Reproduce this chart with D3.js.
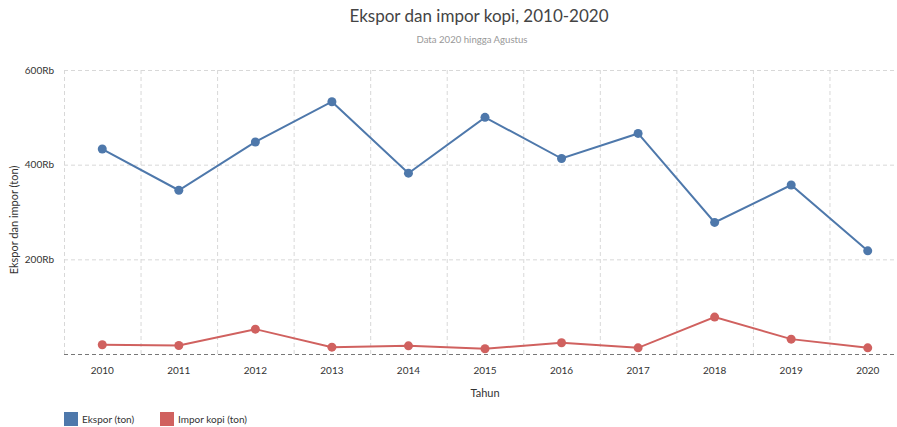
<!DOCTYPE html>
<html>
<head>
<meta charset="utf-8">
<script src="https://cdn.jsdelivr.net/npm/d3@7"></script>
<style>
  body { margin: 0; background: #fff; font-family: Lato, "Open Sans", sans-serif; }
  svg { display: block; }
  .grid line { stroke: #d8d8d8; stroke-dasharray: 4,3; }
  .grid path { display: none; }
</style>
</head>
<body>
<div class="chart"></div>
<script>
// data
var years = ["2010", "2011", "2012", "2013", "2014", "2015", "2016", "2017", "2018", "2019", "2020"];
var ekspor = [433000, 346000, 448000, 533000, 382000, 500000, 413000, 466000, 278000, 357000, 218000];
var impor = [19500, 18000, 52500, 14400, 17300, 11000, 23700, 13000, 78000, 31400, 13000];
var yTicks = [200000, 400000, 600000];
var seriesNames = ["Ekspor (ton)", "Impor kopi (ton)"];
var seriesColors = ["#4e78ab", "#d0615f"];

var svgWidth = 897;
var svgHeight = 427;

var margin = { top: 70, right: -9, bottom: 73, left: 64 };
var width = svgWidth - margin.left - margin.right;
var height = svgHeight - margin.top - margin.bottom;

var svg = d3.select(".chart")
  .append("svg")
  .attr("width", svgWidth)
  .attr("height", svgHeight);

// title + subtitle
svg.append("text")
  .attr("x", 479).attr("y", 22)
  .attr("text-anchor", "middle")
  .attr("font-size", 17)
  .attr("fill", "#444")
  .text("Ekspor dan impor kopi, 2010-2020");

svg.append("text")
  .attr("x", 472).attr("y", 43)
  .attr("text-anchor", "middle")
  .attr("font-size", 9.6)
  .attr("fill", "#999")
  .text("Data 2020 hingga Agustus");

var chartGroup = svg.append("g")
  .attr("transform", `translate(${margin.left}, ${margin.top})`);

var xScale = d3.scaleBand()
  .domain(years)
  .range([0, width]);

var yScale = d3.scaleLinear()
  .domain([0, 600000])
  .range([height, 0]);

// vertical gridlines at band edges
chartGroup.append("g")
  .attr("class", "grid")
  .selectAll("line")
  .data(years)
  .enter()
  .append("line")
  .attr("x1", d => xScale(d) + 0.5)
  .attr("x2", d => xScale(d) + 0.5)
  .attr("y1", 0)
  .attr("y2", height);

// horizontal gridlines + labels
var leftAxis = d3.axisLeft(yScale)
  .tickValues(yTicks)
  .tickSize(-width)
  .tickPadding(10)
  .tickFormat(d => (d / 1000) + "Rb");

var yAxis = chartGroup.append("g")
  .attr("class", "grid")
  .call(leftAxis);
yAxis.selectAll("text")
  .attr("font-size", 10)
  .attr("font-family", "Lato, sans-serif")
  .attr("fill", "#333");

// baseline
chartGroup.append("line")
  .attr("x1", 0).attr("x2", width)
  .attr("y1", yScale(0) + 0.5).attr("y2", yScale(0) + 0.5)
  .attr("stroke", "#777")
  .attr("stroke-dasharray", "4,3");

// x tick labels
var bottomAxis = d3.axisBottom(xScale).tickSize(0).tickPadding(13);
var xAxis = chartGroup.append("g")
  .attr("transform", `translate(0, ${height})`)
  .call(bottomAxis);
xAxis.select(".domain").remove();
xAxis.selectAll("text")
  .attr("font-size", 10)
  .attr("font-family", "Lato, sans-serif")
  .attr("fill", "#333");

// axis titles
chartGroup.append("text")
  .attr("x", (xScale("2015") + xScale.bandwidth() / 2))
  .attr("y", height + 43)
  .attr("text-anchor", "middle")
  .attr("font-size", 11)
  .attr("fill", "#333")
  .text("Tahun");

chartGroup.append("text")
  .attr("transform", "rotate(-90)")
  .attr("x", -(yScale(300000) + 8))
  .attr("y", -46)
  .attr("text-anchor", "middle")
  .attr("font-size", 11)
  .attr("fill", "#333")
  .text("Ekspor dan impor (ton)");

// lines + dots
var allSeries = [ekspor, impor];
var line = d3.line()
  .x((d, i) => xScale(years[i]) + xScale.bandwidth() / 2)
  .y(d => yScale(d));

allSeries.forEach(function(values, s) {
  chartGroup.append("path")
    .datum(values)
    .attr("fill", "none")
    .attr("stroke", seriesColors[s])
    .attr("stroke-width", 2)
    .attr("d", line);

  chartGroup.selectAll(".dot" + s)
    .data(values)
    .enter()
    .append("circle")
    .attr("cx", (d, i) => xScale(years[i]) + xScale.bandwidth() / 2)
    .attr("cy", d => yScale(d))
    .attr("r", 4.5)
    .attr("fill", seriesColors[s]);
});

// legend
var legend = svg.append("g")
  .attr("transform", "translate(64, 412)");
var legendX = [0, 96];
seriesNames.forEach(function(name, i) {
  var g = legend.append("g").attr("transform", `translate(${legendX[i]}, 0)`);
  g.append("rect")
    .attr("width", 14).attr("height", 14)
    .attr("fill", seriesColors[i]);
  g.append("text")
    .attr("x", 18).attr("y", 11)
    .attr("font-size", 10)
    .attr("fill", "#333")
    .text(name);
});
</script>
</body>
</html>
